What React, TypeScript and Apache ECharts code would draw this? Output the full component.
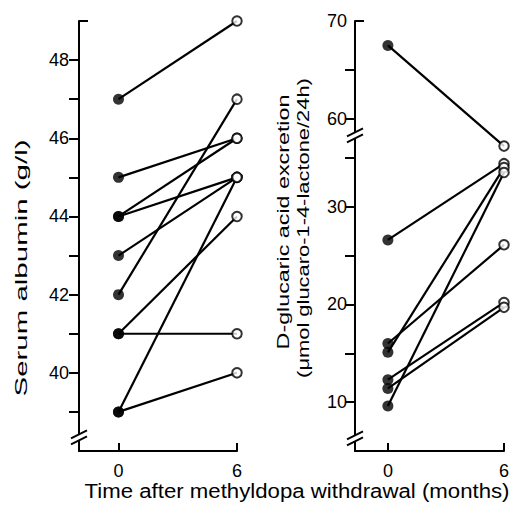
import React, { useEffect, useRef } from "react";
import * as echarts from "echarts";

// ---- data ----
const months = [0, 6];
const albuminBefore = [47, 45, 44, 44, 43, 42, 41, 41, 39, 39];
const albuminAfter = [49, 46, 46, 45, 45, 47, 41, 44, 45, 40];
const glucaricBefore = [67.5, 26.6, 16.0, 15.1, 12.3, 11.4, 9.6];
const glucaricAfter = [57.2, 34.4, 26.1, 34.0, 20.2, 19.7, 33.5];
const albuminTicks = [39, 40, 41, 42, 43, 44, 45, 46, 47, 48];
const albuminLabels = [40, 42, 44, 46, 48];
const glucaricTicks = [10, 15, 20, 25, 30, 35, 60, 65];
const glucaricLabels = [10, 20, 30, 60, 70];
const monthTicks = [0, 6];

// broken axis: upper segment values are shifted down by this amount
const BREAK_OFFSET = 21;
const toDisplay = (v: number) => (v >= 45 ? v - BREAK_OFFSET : v);
const fromDisplay = (d: number) => (d >= 37 ? d + BREAK_OFFSET : d);

const FONT = '"Liberation Sans", Arial, Helvetica, sans-serif';

function measure(text: string, size: number) {
  const c = document.createElement("canvas").getContext("2d")!;
  c.font = `${size}px "Liberation Sans"`;
  return c.measureText(text).width;
}

function stretchedText(text: string, cx: number, cy: number, size: number, length: number, rotation: number) {
  const w = measure(text, size);
  return {
    type: "text",
    x: cx,
    y: cy,
    rotation,
    scaleX: length / w,
    style: {
      text,
      fontSize: size,
      fontFamily: FONT,
      fill: "#000",
      align: "center",
      verticalAlign: "middle",
    },
    z: 50,
  };
}

function breakMark(cx: number, cy: number) {
  const els: any[] = [
    { type: "rect", shape: { x: cx - 3, y: cy - 3, width: 6, height: 6 }, style: { fill: "#fff" }, z: 100 },
  ];
  for (const d of [-3, 3]) {
    els.push({
      type: "line",
      shape: { x1: cx - 8, y1: cy + d + 4, x2: cx + 8, y2: cy + d - 4 },
      style: { stroke: "#000", lineWidth: 2 },
      z: 101,
    });
  }
  return els;
}

const axisLineStyle = { color: "#000", width: 2 };

export default function App() {
  const ref = useRef<HTMLDivElement>(null);
  useEffect(() => {
    const chart = echarts.init(ref.current!, null, { renderer: "svg" });

    const lineSeries = (before: number[], after: number[], idx: number, tf: (v: number) => number) =>
      before.map((b, i) => ({
        type: "line",
        xAxisIndex: idx,
        yAxisIndex: idx * 2,
        showSymbol: false,
        symbol: "none",
        lineStyle: { color: "#000", width: 2.2 },
        z: 2,
        data: [
          [months[0], tf(b)],
          [months[1], tf(after[i])],
        ],
      }));

    const pointSeries = (vals: number[], x: number, idx: number, open: boolean, tf: (v: number) => number) => ({
      type: "scatter",
      xAxisIndex: idx,
      yAxisIndex: idx * 2,
      symbol: "circle",
      symbolSize: open ? 9.5 : 11,
      itemStyle: open
        ? { color: "#fff", borderColor: "#000", borderWidth: 2 }
        : { color: "#000" },
      z: open ? 4 : 3,
      data: vals.map((v) => [x, tf(v)]),
    });

    const xAxis = (grid: number, min: number) => ({
      type: "value",
      gridIndex: grid,
      position: "bottom",
      min,
      max: 6,
      axisLine: { show: true, onZero: false, lineStyle: axisLineStyle },
      axisTick: { show: true, inside: true, length: 8, customValues: monthTicks, lineStyle: axisLineStyle },
      axisLabel: { customValues: monthTicks, margin: 11, color: "#000", fontSize: 18, fontFamily: FONT },
      splitLine: { show: false },
    });

    const capAxis = (grid: number, min: number, max: number) => ({
      type: "value",
      gridIndex: grid,
      position: "left",
      min,
      max,
      axisLine: { show: false, onZero: false },
      axisTick: { show: true, inside: true, length: 9, customValues: [max], lineStyle: axisLineStyle },
      axisLabel: { show: false },
      splitLine: { show: false },
    });

    const option: any = {
      animation: false,
      backgroundColor: "#fff",
      grid: [
        { left: 79, top: 21, width: 158, height: 430 },
        { left: 355, top: 21, width: 149, height: 430 },
      ],
      xAxis: [xAxis(0, -2), xAxis(1, -1.7)],
      yAxis: [
        {
          type: "value",
          gridIndex: 0,
          position: "left",
          min: 38,
          max: 49,
          axisLine: { show: true, onZero: false, lineStyle: axisLineStyle },
          axisTick: { show: true, length: 10, customValues: albuminTicks, lineStyle: axisLineStyle },
          axisLabel: { customValues: albuminLabels, margin: 10, color: "#000", fontSize: 18, fontFamily: FONT },
          splitLine: { show: false },
        },
        capAxis(0, 38, 49),
        {
          type: "value",
          gridIndex: 1,
          position: "left",
          min: 5,
          max: 49,
          axisLine: { show: true, onZero: false, lineStyle: axisLineStyle },
          axisTick: { show: true, length: 10, customValues: glucaricTicks.map(toDisplay), lineStyle: axisLineStyle },
          axisLabel: {
            customValues: glucaricLabels.map(toDisplay),
            formatter: (v: number) => String(Math.round(fromDisplay(v))),
            margin: 8,
            color: "#000",
            fontSize: 18,
            fontFamily: FONT,
          },
          splitLine: { show: false },
        },
        capAxis(1, 5, 49),
      ],
      series: [
        ...lineSeries(albuminBefore, albuminAfter, 0, (v) => v),
        pointSeries(albuminBefore, months[0], 0, false, (v) => v),
        pointSeries(albuminAfter, months[1], 0, true, (v) => v),
        ...lineSeries(glucaricBefore, glucaricAfter, 1, toDisplay),
        pointSeries(glucaricBefore, months[0], 1, false, toDisplay),
        pointSeries(glucaricAfter, months[1], 1, true, toDisplay),
      ],
    };
    chart.setOption(option);

    const pL = chart.convertToPixel({ gridIndex: 0 }, [-2, 38.35]) as number[];
    const pR1 = chart.convertToPixel({ gridIndex: 1 }, [-1.7, 37.3]) as number[];
    const pR2 = chart.convertToPixel({ gridIndex: 1 }, [-1.7, 6.3]) as number[];

    chart.setOption({
      graphic: [
        ...breakMark(pL[0], pL[1]),
        ...breakMark(pR1[0], pR1[1]),
        ...breakMark(pR2[0], pR2[1]),
        stretchedText("Serum albumin (g/l)", 21, 268, 17, 257, Math.PI / 2),
        stretchedText("D-glucaric acid excretion", 283, 222, 17, 255, Math.PI / 2),
        stretchedText("(\u03bcmol glucaro-1-4-lactone/24h)", 304, 228, 16, 300, Math.PI / 2),
        stretchedText("Time after methyldopa withdrawal (months)", 297, 491, 21, 425, 0),
      ],
    });

    return () => chart.dispose();
  }, []);

  return (
    <div
      ref={ref}
      style={{ position: "fixed", left: 0, top: 0, width: 513, height: 505, background: "#fff" }}
    />
  );
}
